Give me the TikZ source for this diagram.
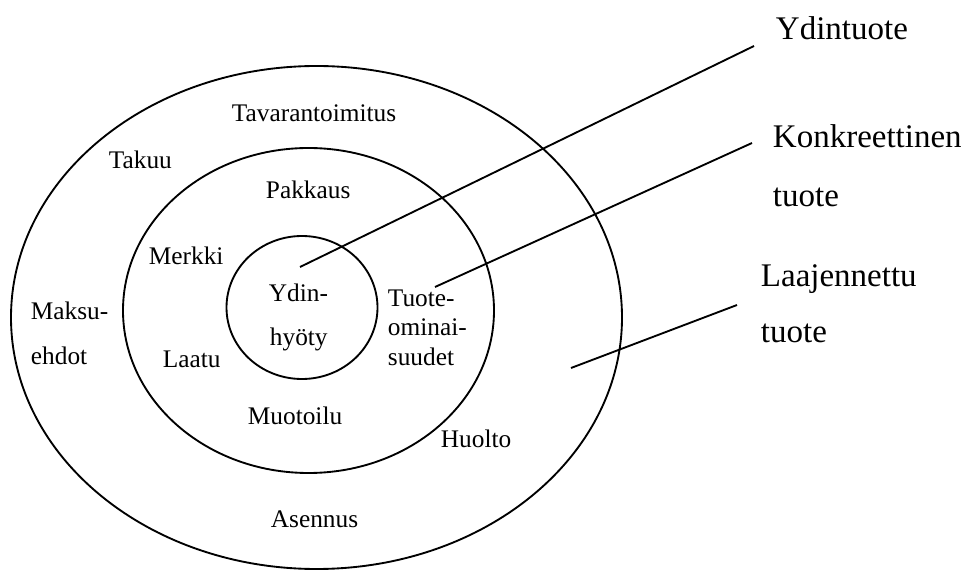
\documentclass[tikz,border=0pt]{standalone}
\usepackage{fontspec}
\setmainfont{Liberation Serif}
\begin{document}
\begin{tikzpicture}[x=0.75pt,y=-0.75pt,line width=1.4pt,
  small/.style={anchor=base west,inner sep=0pt,font=\fontsize{19}{22}\selectfont},
  big/.style={anchor=base west,inner sep=0pt,font=\fontsize{24.75}{28}\selectfont}]
\useasboundingbox (0,0) rectangle (968,570);
% rings
\coordinate (co) at (316.5,317.5);
\coordinate (cm) at (308.5,310.5);
\coordinate (ci) at (302,307.5);
\draw (co) ellipse [x radius=229.125pt,y radius=188.625pt];
\draw (cm) ellipse [x radius=139.125pt,y radius=121.875pt];
\draw (ci) ellipse [x radius=56.625pt,y radius=53.625pt];
% ring labels
\node[small] (tav) at (231,122) {Tavarantoimitus};
\node[small] (tak) at (108,169) {Takuu};
\node[small] (pak) at (265,199) {Pakkaus};
\node[small] (mer) at (148,265) {Merkki};
\node[small] (yd1) at (268,302) {Ydin-};
\node[small] (yd2) at (269,346) {hyöty};
\node[small] (tu1) at (387,307) {Tuote-};
\node[small] (tu2) at (387,336) {ominai-};
\node[small] (tu3) at (387,366) {suudet};
\node[small] (mak1) at (30,320) {Maksu-};
\node[small] (mak2) at (30,365) {ehdot};
\node[small] (laa) at (162,368) {Laatu};
\node[small] (muo) at (247,424) {Muotoilu};
\node[small] (huo) at (440,447) {Huolto};
\node[small] (ase) at (270,527) {Asennus};
% side labels
\node[big] (ydt) at (775,40) {Ydintuote};
\node[big] (kon1) at (772,148) {Konkreettinen};
\node[big] (kon2) at (772,207) {tuote};
\node[big] (laj1) at (760,287) {Laajennettu};
\node[big] (laj2) at (760,343) {tuote};
% leader lines
\coordinate (a1) at (300,267);
\coordinate (b1) at (754,46);
\coordinate (a2) at (435,287);
\coordinate (b2) at (752,143);
\coordinate (a3) at (571,368);
\coordinate (b3) at (737,305);
\draw (a1) -- (b1);
\draw (a2) -- (b2);
\draw (a3) -- (b3);
\end{tikzpicture}
\end{document}
